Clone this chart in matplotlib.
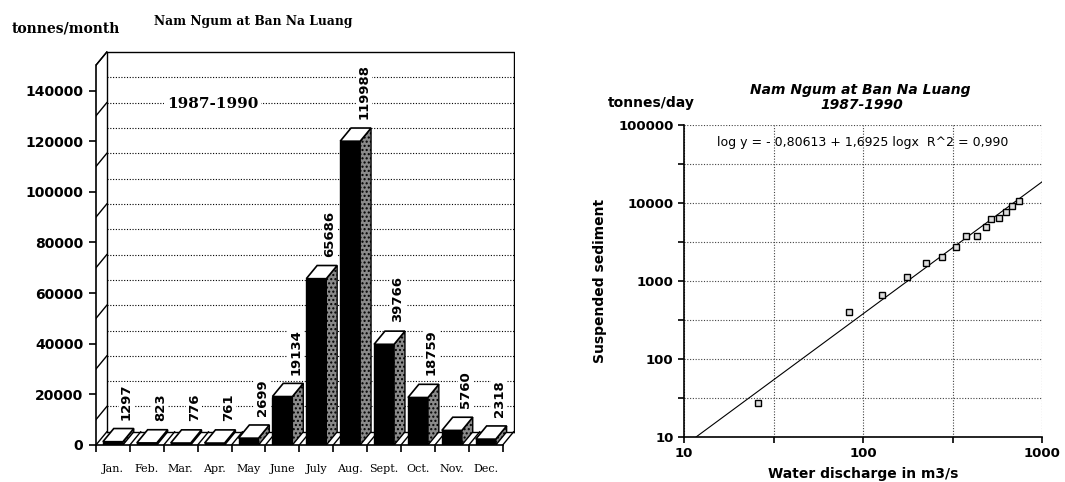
import math

import matplotlib
matplotlib.use("Agg")
import matplotlib.pyplot as plt
from matplotlib.patches import Polygon, Rectangle
from matplotlib.ticker import FixedLocator, NullFormatter

# monthly sediment load, tonnes/month (1987-1990)
MONTHS = ["Jan.", "Feb.", "Mar.", "Apr.", "May", "June", "July", "Aug.",
          "Sept.", "Oct.", "Nov.", "Dec."]
LOAD = [1297, 823, 776, 761, 2699, 19134, 65686, 119988, 39766, 18759, 5760, 2318]
LEFT_YTICKS = [0, 20000, 40000, 60000, 80000, 100000, 120000, 140000]

# rating curve: discharge (m3/s) vs suspended sediment (tonnes/day)
DISCHARGE = [26, 83, 128, 177, 226, 277, 329, 374, 431, 485, 517, 575, 628, 678, 739]
SEDIMENT = [27, 400, 670, 1110, 1690, 2050, 2700, 3810, 3810, 4970, 6180, 6370, 7740,
            9220, 10700]
FIT_A, FIT_B = -0.80613, 1.6925
FIT_X = [11.7, 1000]

DX, DY = 0.32, 5200
BW = 0.59
SANS = "DejaVu Sans"
SERIF = "DejaVu Serif"

fig = plt.figure(figsize=(10.65, 4.82), dpi=100)

# ---------------- left: pseudo 3D bar chart ----------------
ax = fig.add_axes([0.0901, 0.0768, 0.3931, 0.8247])
ax.set_xlim(-0.5, 11.85)
ax.set_ylim(0, 157000)
for s in ("top", "right"):
    ax.spines[s].set_visible(False)
ax.spines["left"].set_bounds(0, 150000)
ax.spines["bottom"].set_bounds(-0.5, 11.5)
ax.spines["left"].set_linewidth(1.2)
ax.spines["bottom"].set_linewidth(1.2)

x0, x1 = -0.5, 11.5
top = 150000
line_kw = dict(color="black", lw=1.0, zorder=1)
# back wall frame
ax.plot([x0 + DX, x0 + DX, x1 + DX, x1 + DX], [DY, top + DY, top + DY, DY], **line_kw)
ax.plot([x0, x0 + DX], [top, top + DY], **line_kw)
ax.plot([x0 + DX, x1 + DX], [DY, DY], **line_kw)
# back wall grid
for k in range(1, 15):
    ax.plot([x0 + DX, x1 + DX], [k * 10000 + DY] * 2, color="black", lw=0.8,
            ls=(0, (1, 1.5)), zorder=0.5)
# side wall marks
for k in range(1, 16, 2):
    ax.plot([x0, x0 + DX], [k * 10000, k * 10000 + DY], **line_kw)
# floor
for b in range(13):
    ax.plot([x0 + b, x0 + b + DX], [0, DY], **line_kw)

for i, v in enumerate(LOAD):
    l, r = i - BW / 2, i + BW / 2
    ax.add_patch(Rectangle((l, 0), BW, v, facecolor="black", edgecolor="black",
                           lw=1, zorder=3))
    ax.add_patch(Polygon([(r, 0), (r + DX, DY), (r + DX, v + DY), (r, v)],
                         closed=True, facecolor="#8a8a8a", edgecolor="black",
                         lw=1, hatch="....", zorder=3))
    ax.add_patch(Polygon([(l, v), (r, v), (r + DX, v + DY), (l + DX, v + DY)],
                         closed=True, facecolor="white", edgecolor="black",
                         lw=1.2, zorder=4))
    ax.text(i + 0.4, v + DY + 3500, str(v), rotation=90, ha="center", va="bottom",
            fontsize=9.5, fontweight="bold", family=SANS, zorder=5,
            bbox=dict(facecolor="white", edgecolor="none", pad=1))

ax.text(2.95, 134700, "1987-1990", ha="center", va="center", fontsize=11,
        fontweight="bold", family=SERIF, zorder=5,
        bbox=dict(facecolor="white", edgecolor="none", pad=2))

ax.set_yticks(LEFT_YTICKS)
ax.set_yticklabels([str(t) for t in LEFT_YTICKS], fontsize=10, fontweight="bold",
                   family=SANS)
ax.tick_params(axis="y", length=5, width=1.2, pad=4)
ax.set_xticks(range(12))
ax.set_xticklabels(MONTHS, fontsize=8, family=SERIF)
ax.tick_params(axis="x", which="major", length=0, pad=14)
ax.xaxis.set_minor_locator(FixedLocator([x0 + b for b in range(13)]))
ax.tick_params(axis="x", which="minor", length=5, width=1.2)

fig.text(253 / 1065, 1 - 21 / 482, "Nam Ngum at Ban Na Luang", ha="center",
         va="center", fontsize=8.8, fontweight="bold", family=SERIF)
fig.text(66 / 1065, 1 - 29 / 482, "tonnes/month", ha="center", va="center",
         fontsize=10, fontweight="bold", family=SERIF)

# ---------------- right: log-log rating curve ----------------
ax2 = fig.add_axes([0.6423, 0.0934, 0.3362, 0.6473])
ax2.set_xscale("log")
ax2.set_yscale("log")
ax2.set_xlim(10, 1000)
ax2.set_ylim(10, 100000)

xmaj = [10, 100, 1000]
ymaj = [10, 100, 1000, 10000, 100000]
ax2.xaxis.set_major_locator(FixedLocator(xmaj))
ax2.yaxis.set_major_locator(FixedLocator(ymaj))
ax2.xaxis.set_minor_locator(FixedLocator([31.6, 316]))
ax2.yaxis.set_minor_locator(FixedLocator([31.6, 316, 3162, 31623]))
ax2.xaxis.set_minor_formatter(NullFormatter())
ax2.yaxis.set_minor_formatter(NullFormatter())
ax2.set_xticklabels([str(t) for t in xmaj], fontsize=9.5, fontweight="bold", family=SANS)
ax2.set_yticklabels([str(t) for t in ymaj], fontsize=9.5, fontweight="bold", family=SANS)
ax2.tick_params(which="both", length=4, width=1.2)
ax2.grid(True, which="both", color="#444444", lw=0.8, ls=(0, (1, 1.5)))
for s in ("top", "right"):
    ax2.spines[s].set_visible(False)
ax2.spines["left"].set_linewidth(1.2)
ax2.spines["bottom"].set_linewidth(1.2)

fit_y = [10 ** (FIT_A + FIT_B * math.log10(x)) for x in FIT_X]
ax2.plot(FIT_X, fit_y, color="black", lw=0.8, zorder=3)
ax2.plot(DISCHARGE, SEDIMENT, ls="none", marker="s", ms=5, mfc="#dddddd",
         mec="black", mew=1, zorder=4)

ax2.text(0.5, 0.945, "log y = - 0,80613 + 1,6925 logx  R^2 = 0,990",
         transform=ax2.transAxes, ha="center", va="center", fontsize=9, family=SANS)
ax2.set_xlabel("Water discharge in m3/s", fontsize=10, fontweight="bold",
               family=SANS, labelpad=5)
ax2.set_ylabel("Suspended sediment", fontsize=10, fontweight="bold", family=SANS,
               labelpad=8)

fig.text(860 / 1065, 1 - 90 / 482, "Nam Ngum at Ban Na Luang", ha="center",
         va="center", fontsize=10, fontweight="bold", style="italic", family=SANS)
fig.text(862 / 1065, 1 - 105 / 482, "1987-1990", ha="center", va="center",
         fontsize=10, fontweight="bold", style="italic", family=SANS)
fig.text(651 / 1065, 1 - 103 / 482, "tonnes/day", ha="center", va="center",
         fontsize=10, fontweight="bold", family=SANS)

fig.savefig("out.png", dpi=100)
